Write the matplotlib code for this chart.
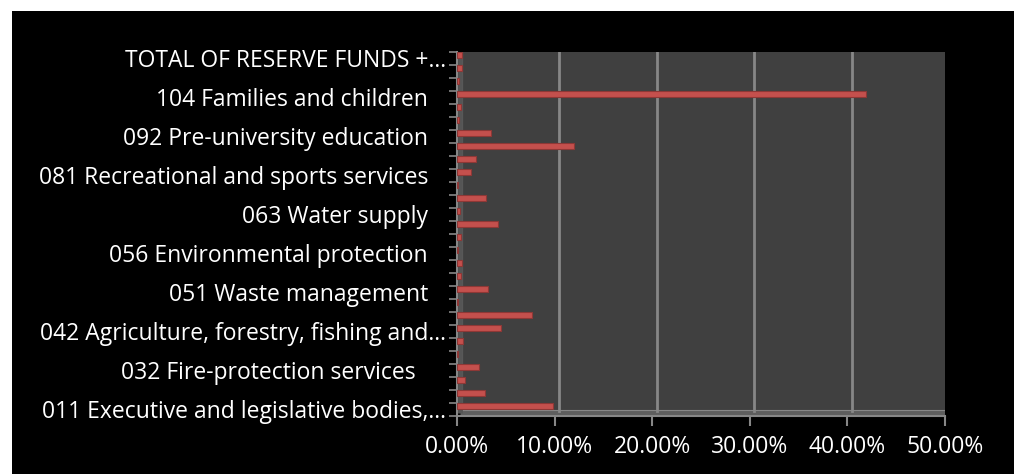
import numpy as np
import matplotlib.pyplot as plt
from matplotlib.patches import Rectangle
from matplotlib.transforms import ScaledTranslation, blended_transform_factory
from matplotlib.ticker import FixedLocator, FuncFormatter

plt.rcParams['font.family'] = ['Open Sans', 'DejaVu Sans']

# share of total spending per budget line, bottom row first
shares = np.array([9.8, 2.9, 0.8, 2.25, 0.15, 0.6, 4.5, 7.7, 0.15, 3.2,
                   0.4, 0.5, 0.15, 0.45, 4.2, 0.3, 3.0, 0.15, 1.4, 1.9,
                   12.0, 3.5, 0.2, 0.45, 41.9, 0.2, 0.5, 0.55]) / 100

row_labels = [
    "011 Executive and legislative bodies,...", "", "",
    "032 Fire-protection services     ", "", "",
    "042 Agriculture, forestry, fishing and...", "", "",
    "051 Waste management   ", "", "",
    "056 Environmental protection   ", "", "",
    "063 Water supply   ", "", "",
    "081 Recreational and sports services   ", "", "",
    "092 Pre-university education   ", "", "",
    "104 Families and children   ", "", "",
    "TOTAL OF RESERVE FUNDS +...",
]

x_ticks = [0.0, 0.1, 0.2, 0.3, 0.4, 0.5]

W, H = 1014, 474
fig = plt.figure(figsize=(W / 100, H / 100), dpi=100, facecolor='white')
fig.patches.append(Rectangle((12 / W, 0), 1, (H - 11) / H, transform=fig.transFigure,
                             facecolor='black', edgecolor='none', zorder=-5))

ax = fig.add_axes([457 / W, (H - 415.5) / H, 488 / W, 364 / H])
ax.set_xlim(0, 0.5)
ax.set_ylim(-0.5, len(shares) - 0.5)
ax.patch.set_visible(False)

grey = '#878787'
depth = ScaledTranslation(4.5 / 100, 5 / 100, fig.dpi_scale_trans)
half = ScaledTranslation(2.5 / 100, 2.5 / 100, fig.dpi_scale_trans)
lift = ScaledTranslation(0, 3 / 100, fig.dpi_scale_trans)

# back wall, floor and side wall of the pseudo-3D box
ax.add_patch(Rectangle((0, 0), 1, 1, transform=ax.transAxes + depth,
                       facecolor='#404040', edgecolor=grey, lw=1.5, zorder=0))
ax.plot([0, 1], [0, 0], transform=ax.transAxes + half, color='#5e5e5e',
        lw=3.5, solid_capstyle='butt', zorder=1)
ax.plot([0, 0], [0, 1], transform=ax.transAxes + half, color='#555555',
        lw=3.5, solid_capstyle='butt', zorder=1)

xgrid = blended_transform_factory(ax.transData, ax.transAxes) + depth
for x in x_ticks[1:]:
    ax.plot([x, x], [0, 1], transform=xgrid, color=grey, lw=2, zorder=1)

y = np.arange(len(shares))
ax.barh(y, shares, height=0.46, color='#C4504D', edgecolor='#8E3836',
        lw=0.8, zorder=3, transform=ax.transData + lift)

for side in ['top', 'right']:
    ax.spines[side].set_visible(False)
for side in ['left', 'bottom']:
    ax.spines[side].set_color(grey)
    ax.spines[side].set_linewidth(1.5)

ax.set_yticks(y)
ax.set_yticklabels(row_labels)
ax.yaxis.set_minor_locator(FixedLocator(np.arange(-0.5, len(shares), 1.0)))
ax.tick_params(axis='y', which='major', length=0, pad=8, labelcolor='white', labelsize=16.5)
ax.tick_params(axis='y', which='minor', length=6, width=1.2, color=grey)

ax.set_xticks(x_ticks)
ax.xaxis.set_major_formatter(FuncFormatter(lambda v, _: f"{v * 100:.2f}%"))
ax.tick_params(axis='x', length=7, width=1.5, color=grey, pad=7,
               labelcolor='white', labelsize=16.5)

fig.savefig('out.png', dpi=100, facecolor=fig.get_facecolor())
